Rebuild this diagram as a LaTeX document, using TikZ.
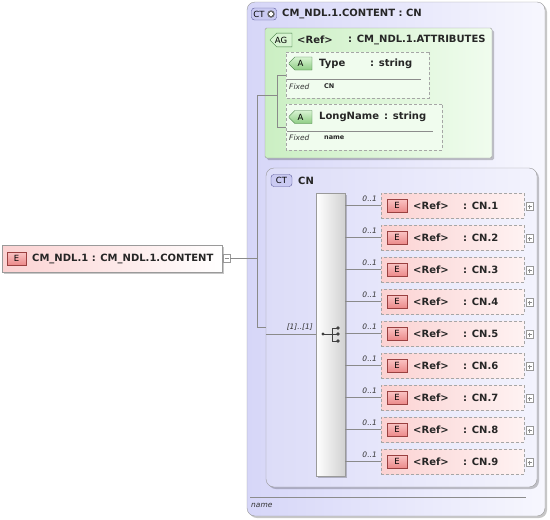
\documentclass[tikz,border=0pt]{standalone}
\usepackage{fontspec}
\setmainfont{DejaVu Sans}
\usetikzlibrary{shadows,shapes.misc}
\definecolor{ctL}{HTML}{D6D6F8}
\definecolor{ctR}{HTML}{F7F7FE}
\definecolor{cnL}{HTML}{DCDCF8}
\definecolor{cnR}{HTML}{F3F3FD}
\definecolor{agL}{HTML}{CBEFC3}
\definecolor{agR}{HTML}{F0FCEE}
\definecolor{elL}{HTML}{FBD2D2}
\definecolor{elR}{HTML}{FEF2F2}
\definecolor{bd}{HTML}{9A9A9A}
\definecolor{ebT}{HTML}{FAC4C4}
\definecolor{ebB}{HTML}{EC8A8A}
\definecolor{ebd}{HTML}{9A4040}
\definecolor{abT}{HTML}{D8F4D2}
\definecolor{abB}{HTML}{8ECC84}
\definecolor{abd}{HTML}{3E7A3E}
\definecolor{ctb}{HTML}{CACAF2}
\definecolor{ctbd}{HTML}{5A5A9A}
\definecolor{ln}{HTML}{8A8A8A}
\begin{document}
\begin{tikzpicture}[x=1pt,y=-1pt,
  bf/.style={font=\fontsize{10}{11}\selectfont\bfseries, inner sep=0, anchor=west, text=black!85},
  sm/.style={font=\fontsize{7.5}{8}\selectfont\itshape, inner sep=0, text=black!80},
  smb/.style={font=\fontsize{6.5}{8}\selectfont\bfseries, inner sep=0, anchor=west, text=black!85},
  shad/.style={drop shadow={shadow xshift=2pt, shadow yshift=-2pt, fill=black, opacity=0.22}},
  ctbox/.style={draw=bd, rounded corners=8pt, left color=ctL, right color=ctR, shad, inner sep=0},
  cnbox/.style={draw=bd, rounded corners=8pt, left color=cnL, right color=cnR, shad, inner sep=0},
  agbox/.style={draw=bd, rounded corners=1.5pt, left color=agL, right color=agR, shad, inner sep=0},
  attbox/.style={draw=black!35, dash pattern=on 3pt off 2pt, chamfered rectangle, chamfered rectangle corners={north west,south west}, chamfered rectangle xsep=4pt, chamfered rectangle ysep=4pt, fill=agR, inner sep=0},
  elbox/.style={draw=black!35, dash pattern=on 3pt off 2pt, left color=elL, right color=elR, inner sep=0, minimum width=143pt, minimum height=25pt},
  solidel/.style={draw=bd, left color=elL, right color=white, shad, inner sep=0},
  seqbox/.style={draw=bd, left color=white, right color=black!18, shad, inner sep=0},
  ebadge/.style={draw=ebd, top color=ebT, bottom color=ebB, inner sep=0, minimum width=20pt, minimum height=13pt, font=\fontsize{8.5}{9}\selectfont, text=black},
  abadge/.style={draw=abd, top color=abT, bottom color=abB, chamfered rectangle, chamfered rectangle corners={north west,south west}, chamfered rectangle xsep=3pt, inner sep=0, minimum width=23pt, minimum height=13pt, font=\fontsize{8.5}{9}\selectfont, text=black},
  agbadge/.style={draw=abd, fill=abT, chamfered rectangle, chamfered rectangle corners={north west,south west}, chamfered rectangle xsep=3pt, inner sep=0, minimum width=22pt, minimum height=12pt, font=\fontsize{8.5}{9}\selectfont, text=black},
  ctbadge/.style={draw=ctbd, fill=ctb, rounded corners=3pt, inner sep=0, minimum height=12pt, font=\fontsize{8.5}{9}\selectfont, text=black},
  pm/.style={draw=black!40, fill=white, inner sep=0, minimum width=7pt, minimum height=8pt},
  conn/.style={draw=ln, line width=0.6pt}
]
\useasboundingbox (0,0) rectangle (550,520);

% outer complex type
\node[ctbox, minimum width=298pt, minimum height=514pt] (ct) at (396,259) {};
\node[ctbadge, minimum width=25pt] (ctb) at (264,14) {};
\node[inner sep=0, font=\fontsize{8.5}{9}\selectfont, text=black] (ctbt) at (259,14) {CT};
\node[circle, fill=black!60, inner sep=0, minimum size=7.5pt] (ctplus) at (271,14) {};
\draw[white, line width=1.1pt] (ctplus.center) ++(-2.3,0) -- ++(4.6,0) (ctplus.center) ++(0,-2.3) -- ++(0,4.6);
\node[bf] (cttitle) at (282,14) {CM\_NDL.1.CONTENT : CN};
\draw[draw=black!45] (250,497) coordinate (sepL) -- (526,497) coordinate (sepR);
\node[sm, anchor=west] (ctname) at (251,505) {name};

% attribute group
\node[agbox, minimum width=227pt, minimum height=130pt] (ag) at (378.5,93) {};
\node[agbadge] (agb) at (281,40) {AG};
\node[bf] (agref) at (297,40) {<Ref>};
\node[bf] (agtype) at (348,40) {: CM\_NDL.1.ATTRIBUTES};

% attribute Type
\node[attbox, minimum width=143pt, minimum height=46pt] (att1) at (357.5,75) {};
\node[abadge] (a1b) at (300.5,63.5) {A};
\node[bf] (a1n) at (319,63.5) {Type};
\node[bf] (a1t) at (370,63.5) {: string};
\draw[black!45] (287,79) -- (421,79);
\node[sm, anchor=west] (a1f) at (289,87) {Fixed};
\node[smb] (a1v) at (324,86.5) {CN};

% attribute LongName
\node[attbox, minimum width=156pt, minimum height=46pt] (att2) at (364,127) {};
\node[abadge] (a2b) at (300.5,117) {A};
\node[bf] (a2n) at (319,117) {LongName};
\node[bf] (a2t) at (384,117) {: string};
\draw[black!45] (287,131) -- (433,131);
\node[sm, anchor=west] (a2f) at (289,138) {Fixed};
\node[smb] (a2v) at (324,137.5) {name};

% CN complex type
\node[cnbox, minimum width=271pt, minimum height=319pt] (cn) at (401.5,327.5) {};
\node[ctbadge, minimum width=21pt] (cnb) at (281.5,180.5) {CT};
\node[bf] (cnt) at (298,180.5) {CN};

% sequence
\node[seqbox, minimum width=29pt, minimum height=283pt] (seq) at (330.5,334.5) {};
\fill[black!75] (323,334) circle (1.7);
\draw[black!75, line width=0.7pt] (323,334) -- (332,334) (332,328) -- (332,341)
  (332,328) -- (338,328) (332,334) -- (338,334) (332,341) -- (338,341);
\fill[black!75] (338,328) circle (1.9) (338,334) circle (1.9) (338,341) circle (1.9);

% elements
\foreach \i in {1,...,9} {
  \pgfmathsetmacro{\cy}{205.5+32*(\i-1)}
  \node[elbox] (e\i) at (452.5,\cy) {};
  \node[ebadge] (eb\i) at (397,\cy) {E};
  \node[bf] (er\i) at (413,\cy) {<Ref>};
  \node[bf] (et\i) at (463,\cy) {: CN.\i};
  \node[pm] (p\i) at (529.5,\cy+1) {};
  \draw[black!45] (p\i.center) ++(-2,0) -- ++(4,0) (p\i.center) ++(0,-2) -- ++(0,4);
  \draw[conn] (seq.east |- e\i.west) -- (e\i.west);
  \node[sm, anchor=east] (m\i) at (377,\cy-6.5) {0..1};
}

% left element
\node[solidel, minimum width=220pt, minimum height=27pt] (root) at (112,258.5) {};
\node[ebadge, minimum width=19pt] (rootb) at (16.5,258.5) {E};
\node[bf] (roott) at (32,258.5) {CM\_NDL.1 : CM\_NDL.1.CONTENT};
\node[pm] (rootm) at (226.5,258.5) {};
\draw[black!45] (rootm.center) ++(-2,0) -- ++(4,0);

% connectors
\coordinate (j1) at (257,95);
\coordinate (j2) at (257,327);
\coordinate (j3) at (277,95);
\draw[conn] (rootm.east) -- (rootm.east -| j1);
\draw[conn] (j1) -- (j2);
\draw[conn] (j2) -- (j2 -| cn.west);
\draw[conn] (j1) -- (j3);
\draw[conn] (j3 |- att1.west) -- (j3 |- att2.west);
\draw[conn] (j3 |- att1.west) -- (att1.west);
\draw[conn] (j3 |- att2.west) -- (att2.west);
\draw[conn] (cn.west |- seq.west) -- (seq.west);
\node[sm, anchor=east] (mult) at (313,327) {[1]..[1]};
\end{tikzpicture}
\end{document}
